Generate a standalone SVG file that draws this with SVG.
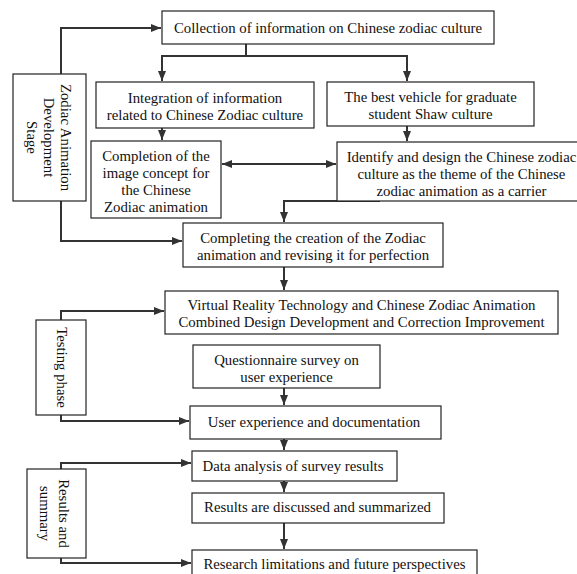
<svg xmlns="http://www.w3.org/2000/svg" width="577" height="574" viewBox="0 0 577 574">
<style>
.box{fill:#fff;stroke:#222;stroke-width:1.2}
.t{font-family:"Liberation Serif","Times New Roman",serif;font-size:14.8px;fill:#111;text-anchor:middle}
.c{fill:none;stroke:#333;stroke-width:2}
</style>
<defs>
<marker id="ah" markerUnits="userSpaceOnUse" markerWidth="10" markerHeight="10" viewBox="0 0 10 10" refX="10" refY="5" orient="auto-start-reverse">
<path d="M0,1 L10,5 L0,9 Z" fill="#333"/>
</marker>
</defs>
<rect width="577" height="574" fill="#fff"/>
<g id="connectors">
<path class="c" d="M61,74 V28 H161" marker-end="url(#ah)"/>
<path class="c" d="M246,44 V56 H162 V81" marker-end="url(#ah)"/>
<path class="c" d="M246,56 H407 V81" marker-end="url(#ah)"/>
<path class="c" d="M162,128 V140" marker-end="url(#ah)"/>
<path class="c" d="M407,126 V141" marker-end="url(#ah)"/>
<path class="c" d="M222,164 H336" marker-start="url(#ah)" marker-end="url(#ah)"/>
<path class="c" d="M380,201 H284 V222" marker-end="url(#ah)"/>
<path class="c" d="M61,201 V241 H182" marker-end="url(#ah)"/>
<path class="c" d="M284,267 V290" marker-end="url(#ah)"/>
<path class="c" d="M61,320 V311 H164" marker-end="url(#ah)"/>
<path class="c" d="M61,415 V421 H189" marker-end="url(#ah)"/>
<path class="c" d="M284,388 V405" marker-end="url(#ah)"/>
<path class="c" d="M284,439 V450" marker-end="url(#ah)"/>
<path class="c" d="M284,481 V492" marker-end="url(#ah)"/>
<path class="c" d="M284,523 V549" marker-end="url(#ah)"/>
<path class="c" d="M61,469 V463 H191" marker-end="url(#ah)"/>
<path class="c" d="M61,558 V563 H191" marker-end="url(#ah)"/>
</g>
<g id="n1"><rect class="box" x="162" y="11" width="332" height="33"/><text class="t" x="328" y="32.5">Collection of information on Chinese zodiac culture</text></g>
<g id="n2"><rect class="box" x="96" y="82" width="218" height="46"/><text class="t" x="205" y="102.5">Integration of information</text><text class="t" x="205" y="119.5">related to Chinese Zodiac culture</text></g>
<g id="n3"><rect class="box" x="327" y="82" width="207" height="44"/><text class="t" x="430.5" y="101.5">The best vehicle for graduate</text><text class="t" x="430.5" y="118.5">student Shaw culture</text></g>
<g id="n4"><rect class="box" x="91" y="141" width="130" height="77"/><text class="t" x="156" y="160.5">Completion of the</text><text class="t" x="156" y="177.5">image concept for</text><text class="t" x="156" y="194.5">the Chinese</text><text class="t" x="156" y="211.5">Zodiac animation</text></g>
<g id="n5"><rect class="box" x="337" y="142" width="250" height="59"/><text class="t" x="461.5" y="162">Identify and design the Chinese zodiac</text><text class="t" x="461.5" y="179">culture as the theme of the Chinese</text><text class="t" x="461.5" y="196">zodiac animation as a carrier</text></g>
<g id="n6"><rect class="box" x="183" y="223" width="260" height="44"/><text class="t" x="313" y="243">Completing the creation of the Zodiac</text><text class="t" x="313" y="260">animation and revising it for perfection</text></g>
<g id="n7"><rect class="box" x="165" y="291" width="393" height="43"/><text class="t" x="361.5" y="310">Virtual Reality Technology and Chinese Zodiac Animation</text><text class="t" x="361.5" y="327">Combined Design Development and Correction Improvement</text></g>
<g id="n8"><rect class="box" x="193" y="345" width="187" height="43"/><text class="t" x="286.5" y="365">Questionnaire survey on</text><text class="t" x="286.5" y="382">user experience</text></g>
<g id="n9"><rect class="box" x="190" y="406" width="251" height="33"/><text class="t" x="314" y="427">User experience and documentation</text></g>
<g id="n10"><rect class="box" x="192" y="451" width="205" height="30"/><text class="t" x="293" y="471">Data analysis of survey results</text></g>
<g id="n11"><rect class="box" x="192" y="493" width="252" height="30"/><text class="t" x="317.5" y="512">Results are discussed and summarized</text></g>
<g id="n12"><rect class="box" x="192" y="550" width="285" height="32"/><text class="t" x="334.5" y="569">Research limitations and future perspectives</text></g>
<g id="s1"><rect class="box" x="13" y="74" width="73" height="127"/><g transform="translate(49.5,137.5) rotate(90)"><text class="t" x="0" y="-11">Zodiac Animation</text><text class="t" x="0" y="6">Development</text><text class="t" x="0" y="23">Stage</text></g></g>
<g id="s2"><rect class="box" x="36" y="320" width="50" height="95"/><g transform="translate(61,367.5) rotate(90)"><text class="t" x="0" y="4">Testing phase</text></g></g>
<g id="s3"><rect class="box" x="27" y="469" width="59" height="89"/><g transform="translate(56.5,513.5) rotate(90)"><text class="t" x="0" y="-2">Results and</text><text class="t" x="0" y="16.5">summary</text></g></g>
</svg>
